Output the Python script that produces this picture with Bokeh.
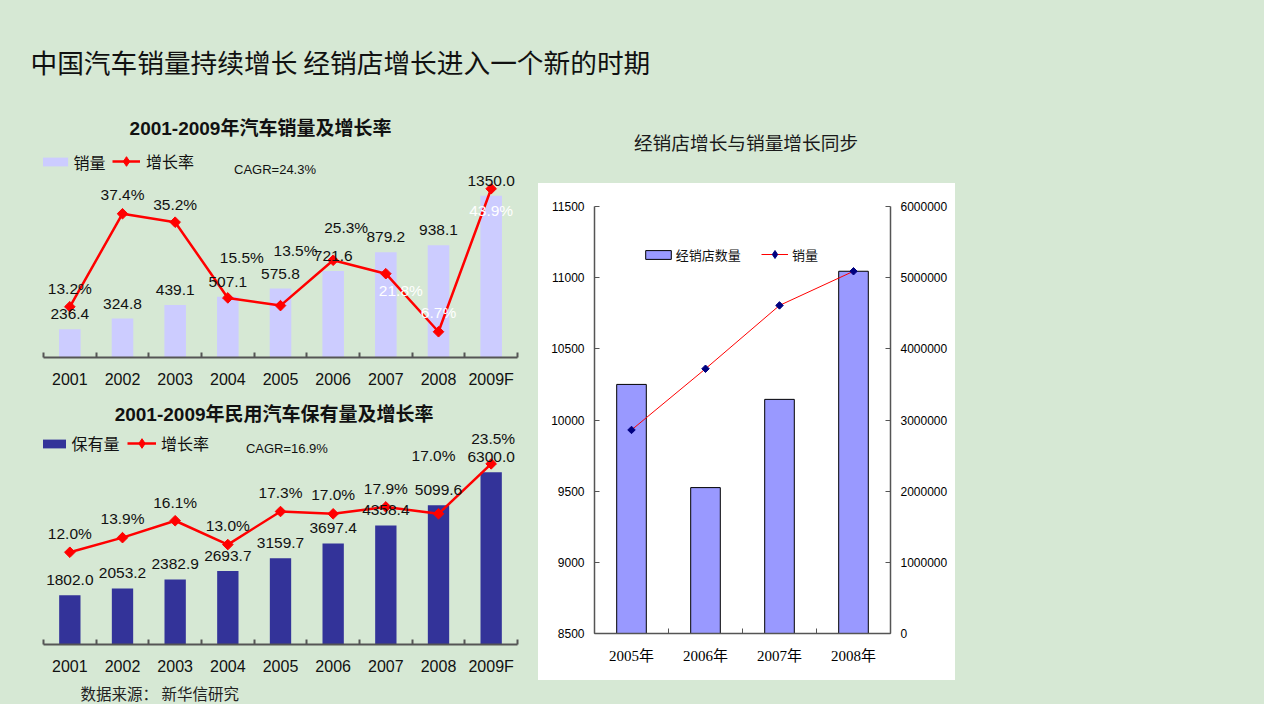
import math
from bokeh.plotting import figure
from bokeh.models import (Range1d, LinearAxis, FixedTicker, SingleIntervalTicker, BasicTickFormatter,
                          ColumnDataSource, LabelSet, Label, Legend, LegendItem)
from bokeh.layouts import column, row
from bokeh.embed import file_html
from bokeh.resources import INLINE
from bokeh.core.properties import value, field

# ---------------- data ----------------
years = ["2001", "2002", "2003", "2004", "2005", "2006", "2007", "2008", "2009F"]
sales = [236.4, 324.8, 439.1, 507.1, 575.8, 721.6, 879.2, 938.1, 1350.0]
sales_growth = [13.2, 37.4, 35.2, 15.5, 13.5, 25.3, 21.8, 6.7, 43.9]
stock = [1802.0, 2053.2, 2382.9, 2693.7, 3159.7, 3697.4, 4358.4, 5099.6, 6300.0]
stock_growth = [12.0, 13.9, 16.1, 13.0, 17.3, 17.0, 17.9, 17.0, 23.5]
dealer_years = ["2005年", "2006年", "2007年", "2008年"]
dealers = [10250, 9525, 10145, 11045]
dealer_sales = [2860000, 3720000, 4610000, 5090000]

# ---------------- styles ----------------
BG = "#d6e8d4"
SANS = "'Liberation Sans', 'Noto Sans CJK SC', sans-serif"
CJK = "'Noto Sans CJK SC', sans-serif"
SERIF = "'Liberation Serif', 'Noto Sans CJK SC', serif"
AXIS = "#555555"
TXT = "#111111"
BGSTYLE = {"background-color": BG}

# label offsets (pixels) for the growth-rate labels
sales_rate_dx = [0, 0, 0, 14, 15, 13, 15, 0, 0]
sales_rate_dy = [18, 19, 18, 40, 55, 33, -17, 19, -22]
sales_rate_col = [TXT] * 6 + ["white"] * 3
stock_rate_dx = [0, 0, 0, 0, 0, 0, 0, -5, 2]
stock_rate_dy = [19, 19, 18, 19, 19, 19, 18, 58, 25]
stock_rate_col = [TXT] * 9


def blank(w, h, fill=BG, bl=0, br=0):
    f = figure(width=w, height=h, title=None, x_range=Range1d(0, w - bl - br), y_range=Range1d(0, h),
               output_backend="svg", toolbar_location=None, x_axis_location=None, y_axis_location=None,
               min_border=0, min_border_left=bl, min_border_right=br,
               background_fill_color=fill, border_fill_color=fill, outline_line_color=None,
               styles={"background-color": fill})
    f.grid.grid_line_color = None
    return f


def add_legend(p, items, x_page, yc_page, frame_left, frame_bottom, gw, gh, standoff, fsize, est_h):
    top = yc_page - gh / 2.0
    H = max(gh, est_h)
    leg = Legend(items=items, location=(x_page - frame_left, frame_bottom - (top + H)),
                 orientation="horizontal", glyph_width=gw, glyph_height=gh, label_height=gh,
                 label_standoff=standoff, padding=0, margin=0, spacing=0,
                 border_line_color=None, background_fill_alpha=0,
                 label_text_font=CJK, label_text_font_size=fsize, label_text_color=TXT)
    p.add_layout(leg, "center")


def growth_chart(cfg):
    cats = cfg["cats"]
    n = len(cats)
    xs = list(range(1, n + 1))
    fw = cfg["width"] - cfg["bl"] - cfg["br"]
    fh = cfg["height"] - cfg["bb"]
    L = cfg["page_x"] + cfg["bl"]
    T = cfg["page_y"]
    B = T + fh
    p = figure(width=cfg["width"], height=cfg["height"], title=None,
               x_range=Range1d(0.5, n + 0.5), y_range=Range1d(0, fh * cfg["units_per_px"]),
               output_backend="svg", toolbar_location=None, y_axis_location=None,
               min_border_left=cfg["bl"], min_border_right=cfg["br"], min_border_top=0,
               min_border_bottom=cfg["bb"], background_fill_color=BG, border_fill_color=BG,
               outline_line_color=None, styles=BGSTYLE)
    p.extra_y_ranges = {"rate": Range1d(0, fh / cfg["px_per_pct"]), "py": Range1d(B, T)}
    p.extra_x_ranges = {"px": Range1d(L, L + fw)}
    p.grid.grid_line_color = None

    src = ColumnDataSource(dict(
        x=xs, v=cfg["bars"], r=cfg["rates"],
        vt=["%.1f" % v for v in cfg["bars"]],
        rt=["%.1f%%" % v for v in cfg["rates"]],
        dx=cfg["rate_dx"], dy=cfg["rate_dy"], col=cfg["rate_col"]))

    bars = p.vbar(x="x", top="v", bottom=0, width=cfg["bar_w"], source=src,
                  fill_color=cfg["bar_color"], line_color=None)
    line = p.line(x="x", y="r", y_range_name="rate", source=src, line_color="#ff0000", line_width=2.5)
    p.scatter(x="x", y="r", y_range_name="rate", source=src, marker="square", angle=math.pi / 4,
              size=7.5, fill_color="#ff0000", line_color="#ff0000")
    # legend-only marker (diamond) - has no visible point in the plot
    marker_r = p.scatter(x=[float("nan")], y=[float("nan")], marker="diamond",
                         fill_color="#ff0000", line_color="#ff0000")

    p.add_layout(LabelSet(x="x", y="v", text="vt", source=src, text_align="center",
                          text_baseline="middle", y_offset=15, text_font=value(SANS),
                          text_font_size=value("15.5px"), text_color=TXT))
    p.add_layout(LabelSet(x="x", y="r", y_range_name="rate", text="rt", source=src,
                          text_align="center", text_baseline="middle",
                          x_offset=field("dx"), y_offset=field("dy"), text_font=value(SANS),
                          text_font_size=value("15.5px"), text_color=field("col")))

    ax = p.xaxis[0]
    ax.ticker = FixedTicker(ticks=xs, minor_ticks=[i + 0.5 for i in range(n + 1)])
    ax.major_label_overrides = {x: c for x, c in zip(xs, cats)}
    ax.major_tick_in = 0
    ax.major_tick_out = 0
    ax.major_tick_line_color = None
    ax.minor_tick_in = 5
    ax.minor_tick_out = 0
    ax.minor_tick_line_color = AXIS
    ax.minor_tick_line_width = 2
    ax.axis_line_color = AXIS
    ax.axis_line_width = 2
    ax.major_label_text_font = SANS
    ax.major_label_text_font_size = "16px"
    ax.major_label_text_color = TXT
    ax.major_label_standoff = 13

    tx, ty = cfg["title_xy"]
    p.add_layout(Label(x=tx, y=ty, x_range_name="px", y_range_name="py", text=cfg["title"],
                       text_align="center", text_baseline="middle", text_font=SANS,
                       text_font_size="19px", text_font_style="bold", text_color=TXT))
    cx, cy = cfg["cagr_xy"]
    p.add_layout(Label(x=cx, y=cy, x_range_name="px", y_range_name="py", text=cfg["cagr"],
                       text_align="center", text_baseline="middle", text_font=SANS,
                       text_font_size="13px", text_color=TXT))

    ax_, ay_, gw, gh, so = cfg["legA"]
    add_legend(p, [LegendItem(label=cfg["bar_label"], renderers=[bars])], ax_, ay_, L, B, gw, gh, so, "16px", 16.5)
    bx_, by_, gw, gh, so = cfg["legB"]
    add_legend(p, [LegendItem(label="增长率", renderers=[line, marker_r])], bx_, by_, L, B, gw, gh, so, "16px", 16.5)
    return p


fig1 = growth_chart(dict(
    cats=years, bars=sales, rates=sales_growth, rate_dx=sales_rate_dx, rate_dy=sales_rate_dy,
    rate_col=sales_rate_col, width=538, height=295, bl=43, br=21, bb=38, page_x=0, page_y=100,
    units_per_px=8.35, px_per_pct=3.844, bar_w=0.41, bar_color="#ccccff",
    title="2001-2009年汽车销量及增长率", title_xy=(260, 128), cagr="CAGR=24.3%", cagr_xy=(274.5, 169),
    bar_label="销量", legA=(36.6, 162.5, 34, 11, 3), legB=(112, 160.5, 28, 24, 6)))

fig2 = growth_chart(dict(
    cats=years, bars=stock, rates=stock_growth, rate_dx=stock_rate_dx, rate_dy=stock_rate_dy,
    rate_col=stock_rate_col, width=538, height=285, bl=42, br=15, bb=36, page_x=0, page_y=395,
    units_per_px=36.6, px_per_pct=7.687, bar_w=0.405, bar_color="#333399",
    title="2001-2009年民用汽车保有量及增长率", title_xy=(276, 414), cagr="CAGR=16.9%", cagr_xy=(289, 448),
    bar_label="保有量", legA=(32.5, 444, 35, 11, 3), legB=(126, 443, 29, 24, 5)))

# footer shares the frame edges of the charts above it (frame starts at x=43)
footer = blank(538, 24, bl=43, br=21)
footer.add_layout(Label(x=80 - 43, y=12, text="数据来源： 新华信研究", text_align="left",
                        text_baseline="middle", text_font=CJK, text_font_size="15.5px",
                        text_color="#222222"))

header = blank(1264, 100)
header.add_layout(Label(x=30, y=39.5, text="中国汽车销量持续增长 经销店增长进入一个新的时期",
                        text_align="left", text_baseline="middle", text_font=CJK,
                        text_font_size="26.7px", text_color=TXT))

rtitle = blank(726, 83)
rtitle.add_layout(Label(x=207.5, y=42, text="经销店增长与销量增长同步", text_align="center",
                        text_baseline="middle", text_font=CJK, text_font_size="18.7px",
                        text_color="#1a1a1a"))

# ---------------- right chart ----------------
n3 = len(dealer_years)
xs3 = list(range(1, n3 + 1))
p3 = figure(width=417, height=497, title=None, x_range=Range1d(0.5, n3 + 0.5),
            y_range=Range1d(8500, 11500), output_backend="svg", toolbar_location=None,
            min_border_left=56, min_border_right=65, min_border_top=23, min_border_bottom=47,
            background_fill_color="white", border_fill_color="white", outline_line_color=None,
            styles={"background-color": "white"})
p3.extra_y_ranges = {"sales": Range1d(0, 6000000)}
p3.grid.grid_line_color = None
src3 = ColumnDataSource(dict(x=xs3, d=dealers, s=dealer_sales))
bars3 = p3.vbar(x="x", top="d", bottom=8500, width=0.40, source=src3, fill_color="#9999ff",
                line_color="black", line_width=1)
line3 = p3.line(x="x", y="s", y_range_name="sales", source=src3, line_color="#ff0000", line_width=1)
p3.scatter(x="x", y="s", y_range_name="sales", source=src3, marker="square", angle=math.pi / 4,
           size=5.3, fill_color="#000080", line_color="#000080")
marker3 = p3.scatter(x=[float("nan")], y=[float("nan")], y_range_name="sales", marker="diamond",
                     fill_color="#000080", line_color="#000080")

p3.yaxis.ticker = SingleIntervalTicker(interval=500, num_minor_ticks=0)
p3.add_layout(LinearAxis(y_range_name="sales",
                         ticker=SingleIntervalTicker(interval=1000000, num_minor_ticks=0),
                         formatter=BasicTickFormatter(use_scientific=False)), "right")
for ax in p3.yaxis:
    ax.axis_line_color = AXIS
    ax.axis_line_width = 1.5
    ax.major_tick_in = 5
    ax.major_tick_out = 0
    ax.major_tick_line_color = AXIS
    ax.minor_tick_line_color = None
    ax.major_label_text_font = SANS
    ax.major_label_text_font_size = "12px"
    ax.major_label_text_color = "black"
    ax.major_label_standoff = 10

xa = p3.xaxis[0]
xa.ticker = FixedTicker(ticks=xs3, minor_ticks=[i + 0.5 for i in range(n3 + 1)])
xa.major_label_overrides = {x: c for x, c in zip(xs3, dealer_years)}
xa.major_tick_line_color = None
xa.major_tick_in = 0
xa.major_tick_out = 0
xa.minor_tick_in = 5
xa.minor_tick_out = 0
xa.minor_tick_line_color = AXIS
xa.axis_line_color = AXIS
xa.axis_line_width = 1.5
xa.major_label_text_font = SERIF
xa.major_label_text_font_size = "15px"
xa.major_label_text_color = "black"
xa.major_label_standoff = 14

add_legend(p3, [LegendItem(label="经销店数量", renderers=[bars3])], 641.8, 255, 594, 633, 32, 11, 2, "13px", 14)
add_legend(p3, [LegendItem(label="销量", renderers=[line3, marker3])], 761, 254, 594, 633, 27, 20, 4, "13px", 14)

rspacer = blank(309, 497)
rbottom = blank(726, 24)

left = column(fig1, fig2, footer, spacing=0, styles=BGSTYLE)
right = column(rtitle, row(p3, rspacer, spacing=0, styles=BGSTYLE), rbottom, spacing=0, styles=BGSTYLE)
page = column(header, row(left, right, spacing=0, styles=BGSTYLE), spacing=0, styles=BGSTYLE)

open("out.html", "w").write(file_html(page, INLINE))
